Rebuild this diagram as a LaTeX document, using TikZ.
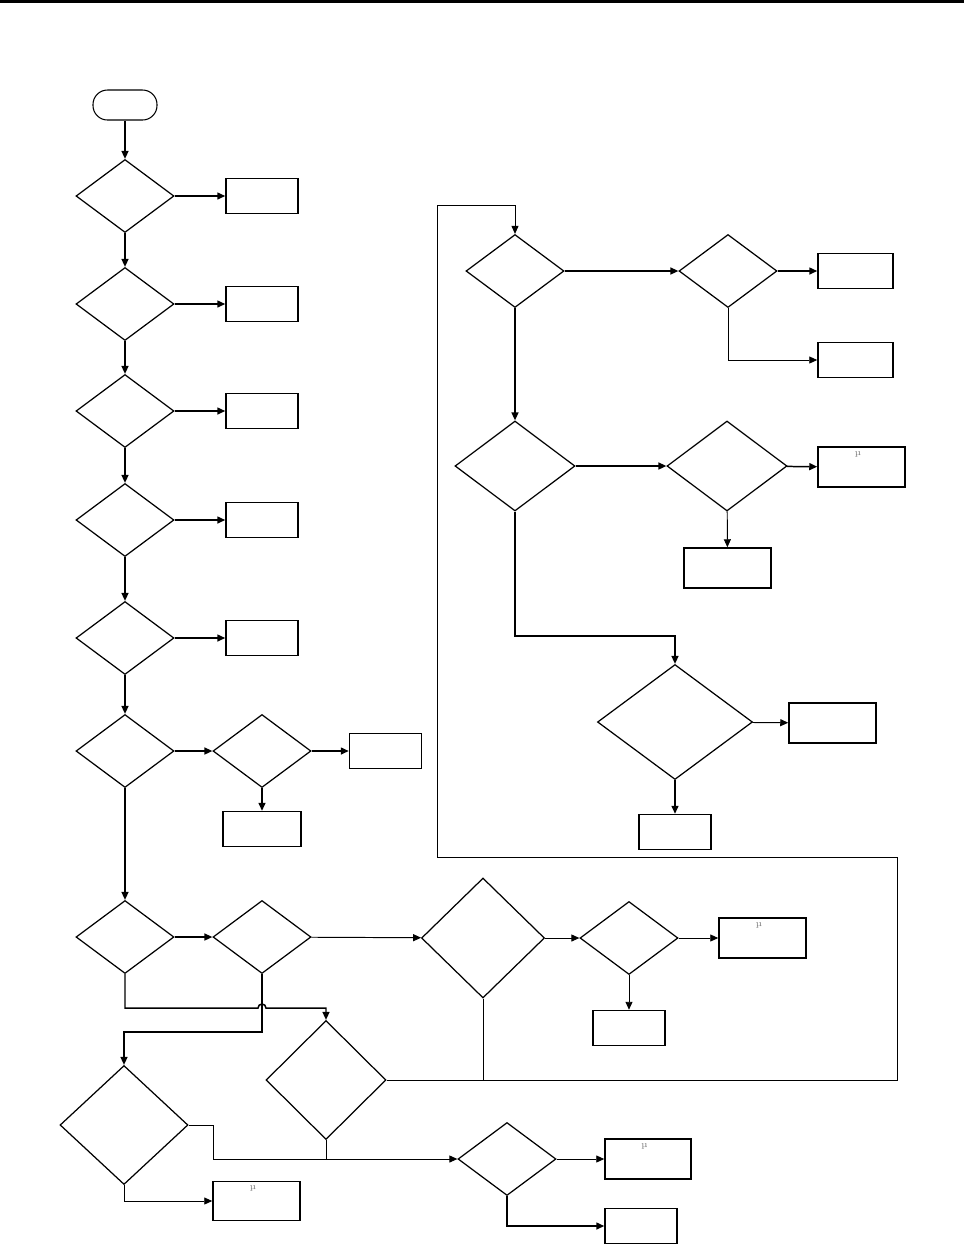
\documentclass[tikz,border=0pt]{standalone}
\usetikzlibrary{arrows.meta,shapes.geometric}
\begin{document}
\begin{tikzpicture}[x=0.2mm,y=-0.2mm,ask/.style={diamond,draw,line width=0.7pt,inner sep=0pt,minimum width=19.6mm,minimum height=14.6mm},act/.style={rectangle,draw,line width=0.85pt,inner sep=0pt,minimum width=14.4mm,minimum height=7mm},mu/.style={label={[font=\tiny,text=gray,anchor=north,inner sep=0pt,xshift=-0.7mm,yshift=-1mm]north:µ}},flow/.style={line width=0.85pt,-{Triangle[length=1.6mm,width=1.4mm]}},thinflow/.style={line width=0.55pt,-{Triangle[length=1.6mm,width=1.4mm]}},link/.style={line width=0.55pt}]
\useasboundingbox (0,0) rectangle (964,1245);
\draw[line width=1.5pt] (0,1.3) -- (964,1.3);
\node[draw,line width=0.6pt,rounded corners=2.9mm,minimum width=12.8mm,minimum height=6mm,inner sep=0pt] (T) at (125,105) {};
\node[ask] (D1) at (125,196) {};
\node[ask] (D2) at (125,304) {};
\node[ask] (D3) at (125,411) {};
\node[ask] (D4) at (125,520) {};
\node[ask] (D5) at (125,638) {};
\node[ask] (D6) at (125,751) {};
\node[ask] (D7) at (262,751) {};
\node[ask] (D8) at (125,937) {};
\node[ask] (D9) at (262,937) {};
\node[ask,minimum width=24.6mm,minimum height=24mm] (D10) at (483,938) {};
\node[ask] (D11) at (629,938) {};
\node[ask,minimum width=24mm,minimum height=23.8mm] (D12) at (326,1080) {};
\node[ask,minimum width=25.6mm,minimum height=23.8mm] (D13) at (124,1125) {};
\node[ask] (D15) at (507,1159) {};
\node[ask] (D14) at (515,271) {};
\node[ask] (D16) at (728,271) {};
\node[ask,minimum width=24mm,minimum height=18mm] (D17) at (515,466) {};
\node[ask,minimum width=24mm,minimum height=18mm] (D18) at (727,466) {};
\node[ask,minimum width=31mm,minimum height=23mm] (D19) at (675,722) {};
\node[act] (B1) at (262,196) {};
\node[act] (B2) at (262,304) {};
\node[act] (B3) at (262,411) {};
\node[act] (B4) at (262,520) {};
\node[act] (B5) at (262,638) {};
\node[act] (B6) at (385.5,751) {};
\node[act,minimum width=15.6mm] (B7) at (262,829) {};
\node[act,mu,minimum width=17.4mm,minimum height=8mm] (B8) at (762.5,938) {};
\node[act] (B9) at (629,1028) {};
\node[act,mu,minimum width=17.2mm,minimum height=8mm] (B10) at (648,1159) {};
\node[act] (B11) at (641,1226) {};
\node[act,mu,minimum width=17.4mm,minimum height=7.8mm] (B12) at (256.5,1201) {};
\node[act,minimum width=15mm] (B13) at (855.5,271) {};
\node[act,minimum width=15mm] (B14) at (855.5,360) {};
\node[act,mu,minimum width=17.4mm,minimum height=8mm] (B15) at (861.5,467) {};
\node[act,minimum width=17.4mm,minimum height=8mm] (B16) at (727.5,568) {};
\node[act,minimum width=17.4mm,minimum height=8mm] (B17) at (832.5,723) {};
\node[act] (B18) at (675,832) {};
\coordinate (J1) at (262,1008);
\coordinate (J2) at (897,857);
\coordinate (J3) at (437,205);
\draw[flow] (T) -- (D1);
\draw[flow] (D1) -- (B1);
\draw[flow] (D1) -- (D2);
\draw[flow] (D2) -- (B2);
\draw[flow] (D2) -- (D3);
\draw[flow] (D3) -- (B3);
\draw[flow] (D3) -- (D4);
\draw[flow] (D4) -- (B4);
\draw[flow] (D4) -- (D5);
\draw[flow] (D5) -- (B5);
\draw[flow] (D5) -- (D6);
\draw[flow] (D6) -- (D7);
\draw[flow] (D7) -- (B6);
\draw[flow] (D7) -- (B7);
\draw[flow] (D6) -- (D8);
\draw[flow] (D8) -- (D9);
\draw[thinflow] (D9) -- (D10);
\draw[thinflow] (D10) -- (D11);
\draw[thinflow] (D11) -- (B8);
\draw[thinflow] (D11) -- (B9);
\draw[flow] (D8.south) |- ([xshift=-0.8mm]J1) arc[start angle=180,end angle=0,radius=0.8mm] -| (D12.north);
\draw[flow] (D9.south) -- (262,1032) -| (D13.north);
\draw[link] (D10.south) -- (D10.south |- D12.east);
\draw[thinflow] (D12.east) -| (J2) -| (J3) -| (D14.north);
\draw[link] (D12.south) -- (326,1159);
\draw[thinflow] (D13.east) -| (213,1159) -- (D15.west);
\draw[thinflow] (D15) -- (B10);
\draw[flow] (D15.south) |- (B11.west);
\draw[thinflow] (D13.south) |- (B12.west);
\draw[flow] (D14) -- (D16);
\draw[flow] (D16) -- (B13);
\draw[thinflow] (D16.south) |- (B14.west);
\draw[flow] (D14) -- (D17);
\draw[flow] (D17) -- (D18);
\draw[flow] (D18) -- (B15);
\draw[thinflow] (D18) -- (B16);
\draw[flow] (D17.south) -- (515,636) -| (D19.north);
\draw[thinflow] (D19) -- (B17);
\draw[flow] (D19) -- (B18);
\end{tikzpicture}
\end{document}
